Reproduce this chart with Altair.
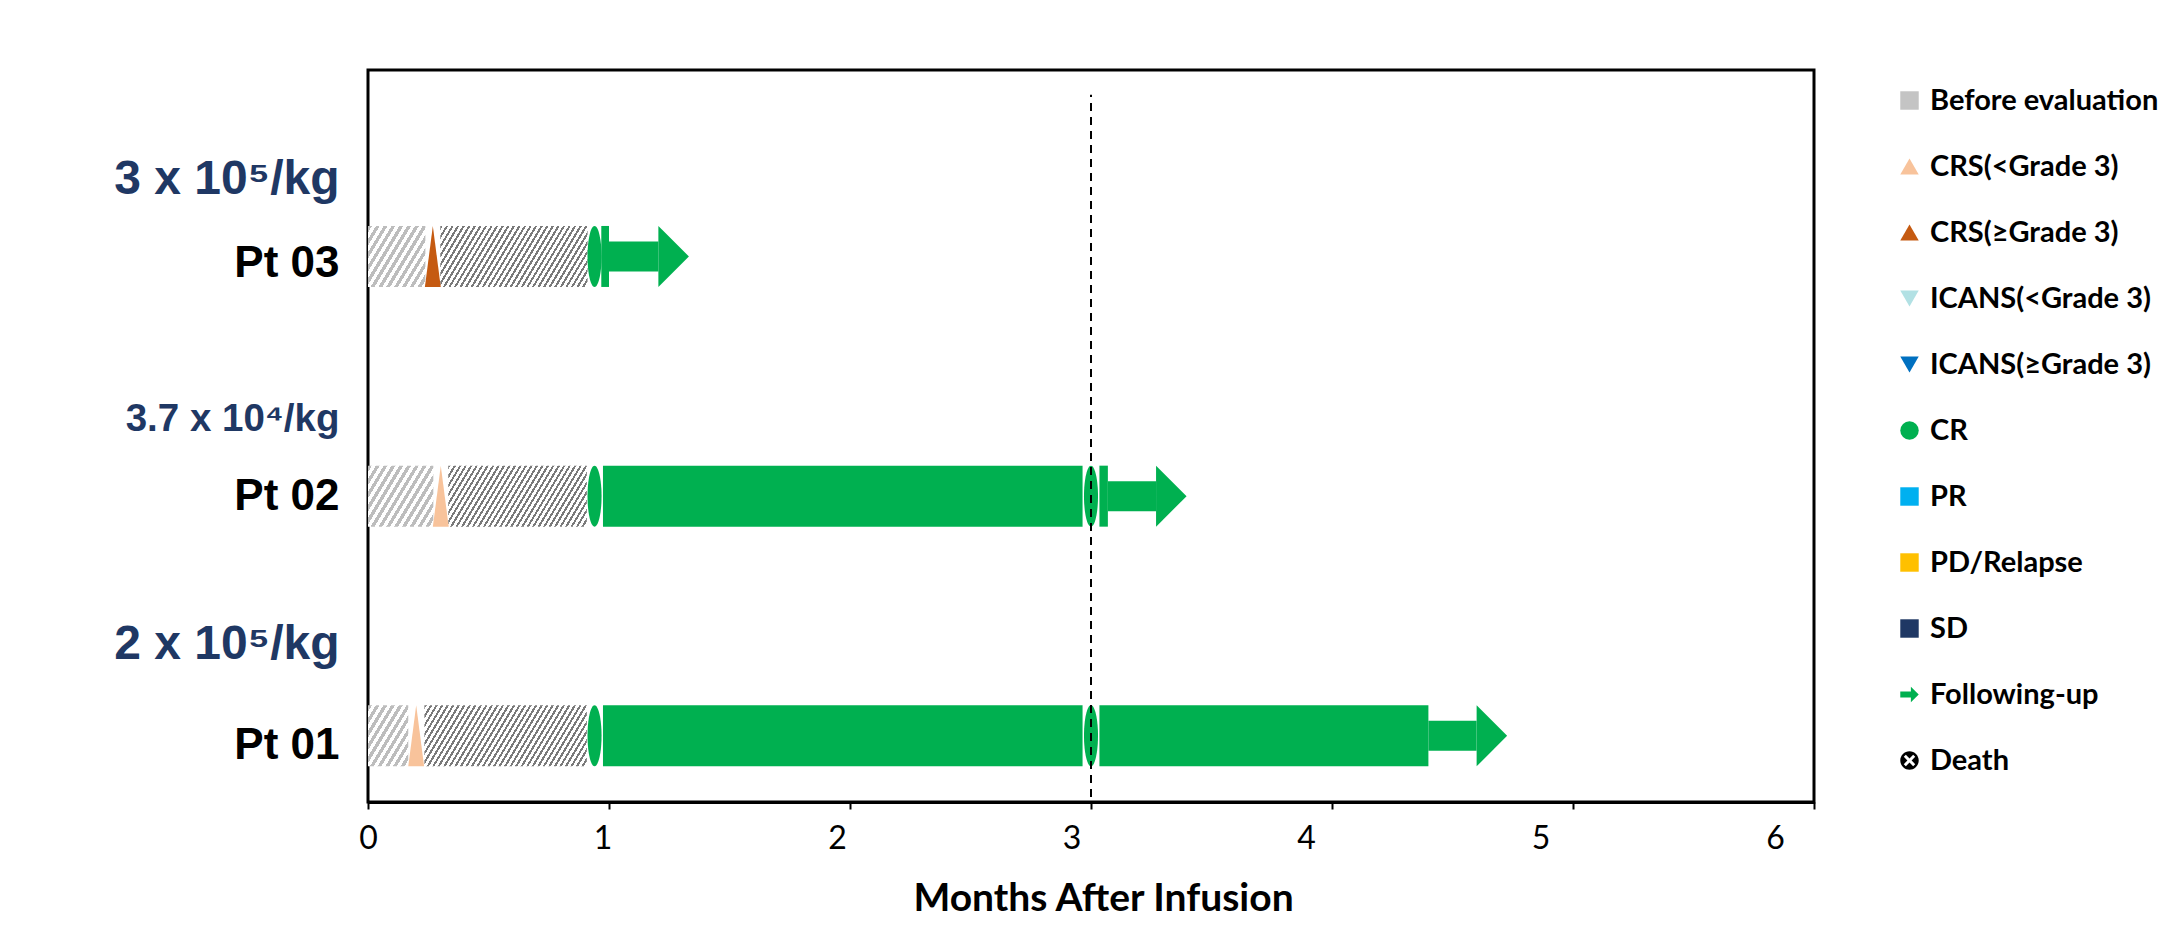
import math
import altair as alt
import pandas as pd

# ---------------- data ----------------
patients = ["Pt 01", "Pt 02", "Pt 03"]
patient_row = [1, 2, 3]
patient_label_pos = [0.96, 2.0, 2.97]
dose_labels = ["2 x 10⁵/kg", "3.7 x 10⁴/kg", "3 x 10⁵/kg"]
dose_label_pos = [1.383, 2.326, 3.32]

pre_light_end = [0.167, 0.271, 0.238]     # before evaluation, before CRS
pre_dark_start = [0.234, 0.333, 0.300]    # before evaluation, after CRS
pre_end = [0.908, 0.908, 0.911]

crs_time = [0.200, 0.302, 0.269]
crs_grade = ["CRS(<Grade 3)", "CRS(<Grade 3)", "CRS(≥Grade 3)"]

cr_eval_row = [1, 1, 2, 2, 3]
cr_eval_time = [0.94, 3.0, 0.94, 3.0, 0.94]

resp_row = [1, 1, 2, 2, 3]
resp_start = [0.975, 3.035, 0.975, 3.035, 0.968]
resp_end = [2.965, 4.40, 2.965, 3.07, 1.0]

follow_row = [1, 2, 3]
follow_start = [4.40, 3.07, 1.0]
follow_end = [4.60, 3.27, 1.205]

ref_month = [3]
x_ticks = [0, 1, 2, 3, 4, 5, 6]

legend_cats = ["Before evaluation", "CRS(<Grade 3)", "CRS(≥Grade 3)", "ICANS(<Grade 3)",
               "ICANS(≥Grade 3)", "CR", "PR", "PD/Relapse", "SD", "Following-up", "Death"]
legend_colors = ["#C4C4C4", "#F8C39B", "#C55A11", "#B2E1E4", "#0070C0", "#00B050",
                 "#00B0F0", "#FFC000", "#1F3864", "#00B050", "#000000"]

# ---------------- layout / style ----------------
W, H = 1446, 732
X_DOM = [0, 6]
Y_DOM = [0.745, 3.757]
REF_TOP = 3.675
PX_PER_X = W / (X_DOM[1] - X_DOM[0])
BAR_H = 61
SHAFT_H = 30
GREEN = "#00B050"
grade_color = dict(zip(legend_cats, legend_colors))

arrow_path = "M-1,-0.32L0.15,-0.32L0.15,-0.85L1,0L0.15,0.85L0.15,0.32L-1,0.32Z"
w_, L_ = 0.16, 0.72
plus = [(-w_, -L_), (w_, -L_), (w_, -w_), (L_, -w_), (L_, w_), (w_, w_), (w_, L_),
        (-w_, L_), (-w_, w_), (-L_, w_), (-L_, -w_), (-w_, -w_)]
rot = [((x - y) / math.sqrt(2), (x + y) / math.sqrt(2)) for x, y in plus]
death_path = ("M-1,0A1,1 0 1,0 1,0A1,1 0 1,0 -1,0Z"
              + "M" + "L".join(f"{x:.3f},{y:.3f}" for x, y in rot) + "Z")
legend_shapes = ["square", "triangle-up", "triangle-up", "triangle-down", "triangle-down",
                 "circle", "square", "square", "square", arrow_path, death_path]

tri_path = "M0,-1L0.26,1L-0.26,1Z"
ellipse_path = "M0,-1A0.23,1 0 1,1 0,1A0.23,1 0 1,1 0,-1Z"
head_path = "M0,-1L1,0L0,1Z"

xscale = alt.Scale(domain=X_DOM, nice=False, zero=False)
yscale = alt.Scale(domain=Y_DOM, nice=False, zero=False)

x_offsets = {k: -6.5 * k for k in x_ticks if k > 0}
xaxis = alt.Axis(
    values=x_ticks, format="d", title="Months After Infusion",
    titleFont="Lato", titleFontSize=39, titleFontWeight="bold", titleColor="black",
    titleY=108, titleBaseline="alphabetic", titleX=735,
    labelFont="Lato", labelFontSize=32, labelColor="black", labelPadding=14,
    labelFlush=False, labelOverlap=False,
    labelOffset={"condition": [{"test": f"datum.value == {k}", "value": v} for k, v in x_offsets.items()],
                 "value": 0},
    tickSize=7, tickWidth=2, tickColor="black", domainColor="black", domainWidth=3, grid=False,
)

y_vals = patient_label_pos + dose_label_pos
y_texts = patients + dose_labels
label_expr = " : ".join(f"datum.value == {v} ? '{t}'" for v, t in zip(y_vals, y_texts)) + " : ''"
pt_test = " || ".join(f"datum.value == {v}" for v in patient_label_pos)
yaxis = alt.Axis(
    values=y_vals, labelExpr=label_expr, title=None, ticks=False, domain=False, grid=False,
    labelFont="Liberation Sans", labelFontWeight="bold", labelPadding=29, labelLimit=500,
    labelOverlap=False, labelFlush=False,
    labelColor={"condition": {"test": pt_test, "value": "black"}, "value": "#1F3864"},
    labelFontSize={"condition": [{"test": pt_test, "value": 44},
                                 {"test": f"datum.value == {dose_label_pos[1]}", "value": 38.5}],
                   "value": 48},
)


def X(f):
    return alt.X(f, type="quantitative", scale=xscale, axis=xaxis)


def Y(f):
    return alt.Y(f, type="quantitative", scale=yscale, axis=yaxis)


def hatch(width_px, height_px, period, stripe, bg, duty, cot=0.6):
    t = cot * height_px / width_px
    k = (1 + t) / (1 + t * t)
    n = max(1, round(width_px * (1 + t) / period))
    stops = []
    for i in range(n):
        a, b, c = i / n, (i + duty) / n, (i + 1) / n
        stops += [{"offset": a, "color": stripe}, {"offset": b, "color": stripe},
                  {"offset": b, "color": bg}, {"offset": c, "color": bg}]
    return {"gradient": "linear", "x1": 0, "y1": 0, "x2": k, "y2": k * t, "stops": stops}


layers = []
# before evaluation hatched segments
for i in range(len(patients)):
    for (s, e, stripe, period, duty) in [(0.0, pre_light_end[i], "#BDBDBD", 8.0, 0.5),
                                         (pre_dark_start[i], pre_end[i], "#7A7A7A", 5.5, 0.42)]:
        df = pd.DataFrame({"row": [patient_row[i]], "s": [s], "e": [e]})
        g = hatch((e - s) * PX_PER_X, BAR_H, period, stripe, "#FFFFFF", duty)
        layers.append(alt.Chart(df).mark_bar(size=BAR_H, fill=g, strokeWidth=0)
                      .encode(x=X("s"), x2="e", y=Y("row")))

# CRS triangles
crs_df = pd.DataFrame({"row": patient_row, "t": crs_time, "grade": crs_grade,
                       "col": [grade_color[g] for g in crs_grade]})
layers.append(alt.Chart(crs_df).mark_point(shape=tri_path, size=BAR_H * BAR_H, filled=True,
                                           opacity=1, strokeWidth=0)
              .encode(x=X("t"), y=Y("row"), color=alt.Color("col:N", scale=None)))

# response bars
resp_df = pd.DataFrame({"row": resp_row, "s": resp_start, "e": resp_end})
layers.append(alt.Chart(resp_df).mark_bar(size=BAR_H, color=GREEN)
              .encode(x=X("s"), x2="e", y=Y("row")))

# CR evaluations (ellipses)
cr_df = pd.DataFrame({"row": cr_eval_row, "t": cr_eval_time})
layers.append(alt.Chart(cr_df).mark_point(shape=ellipse_path, size=BAR_H * BAR_H, filled=True,
                                          color=GREEN, opacity=1, strokeWidth=0)
              .encode(x=X("t"), y=Y("row")))

# following-up arrows
fol_df = pd.DataFrame({"row": follow_row, "s": follow_start, "e": follow_end})
layers.append(alt.Chart(fol_df).mark_bar(size=SHAFT_H, color=GREEN)
              .encode(x=X("s"), x2="e", y=Y("row")))
layers.append(alt.Chart(fol_df).mark_point(shape=head_path, size=BAR_H * BAR_H, filled=True,
                                           color=GREEN, opacity=1, strokeWidth=0)
              .encode(x=X("e"), y=Y("row")))

# reference dashed line at 3 months
ref_df = pd.DataFrame({"x": ref_month, "y": [Y_DOM[0]], "y2": [REF_TOP]})
layers.append(alt.Chart(ref_df).mark_rule(color="black", strokeWidth=2, strokeDash=[8, 6])
              .encode(x=X("x"), y=Y("y"), y2="y2"))

# legend
leg = alt.Legend(orient="none", legendX=1527, legendY=16, title=None, symbolSize=340,
                 labelFont="Lato", labelFontSize=29, labelFontWeight="bold", labelColor="black",
                 rowPadding=36, labelOffset=6, symbolOpacity=1, symbolStrokeWidth=0,
                 padding=0, labelLimit=400)
leg_df = pd.DataFrame({"cat": legend_cats})
layers.append(alt.Chart(leg_df).mark_point(filled=True, opacity=0)
              .encode(x=alt.value(0), y=alt.value(0),
                      color=alt.Color("cat:N", scale=alt.Scale(domain=legend_cats, range=legend_colors),
                                      legend=leg),
                      shape=alt.Shape("cat:N", scale=alt.Scale(domain=legend_cats, range=legend_shapes),
                                      legend=leg)))

chart = (alt.layer(*layers)
         .properties(width=W, height=H, background="white",
                     padding={"left": 360, "top": 62, "right": 356, "bottom": 116},
                     autosize=alt.AutoSizeParams(type="none"))
         .configure_view(stroke="black", strokeWidth=3))

chart.save("out.html", embed_options={"renderer": "svg", "actions": False})
